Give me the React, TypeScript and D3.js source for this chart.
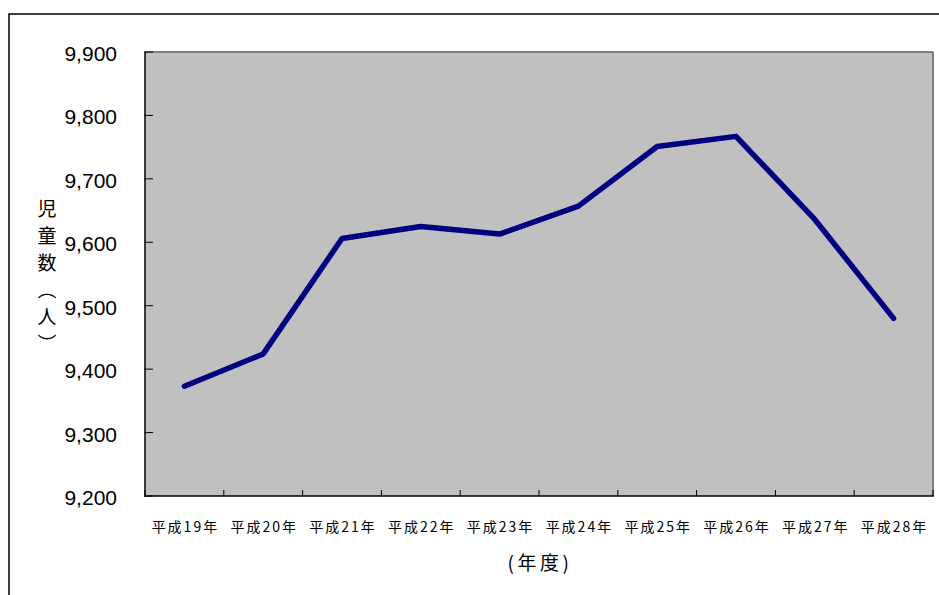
import React from "react";
import * as d3 from "d3";

const categories = ["平成19年", "平成20年", "平成21年", "平成22年", "平成23年", "平成24年", "平成25年", "平成26年", "平成27年", "平成28年"];
const values = [9373, 9424, 9606, 9625, 9613, 9657, 9751, 9767, 9636, 9480];
const yTicks = [9200, 9300, 9400, 9500, 9600, 9700, 9800, 9900];
const yTitle = "児童数（人）";
const xTitle = "(年度)";

const W = 939, H = 595;
const plot = { left: 145, top: 52, right: 933, bottom: 496 };

export default function App() {
  const x = d3.scaleBand<string>().domain(categories).range([plot.left, plot.right]).padding(0);
  const y = d3.scaleLinear().domain([9200, 9900]).range([plot.bottom, plot.top]);
  const line = d3.line<number>()
    .x((_, i) => (x(categories[i]) as number) + x.bandwidth() / 2)
    .y((d) => y(d));
  const fmt = d3.format(",");
  const bounds = [...categories.map((c) => x(c) as number), plot.right];

  return (
    <svg width={W} height={H} style={{ position: "absolute", left: 0, top: 0, background: "#fff" }}>
      <rect x={9} y={14} width={960} height={620} fill="#fff" stroke="#000" strokeWidth={1.5} />
      <rect x={plot.left} y={plot.top} width={plot.right - plot.left} height={plot.bottom - plot.top} fill="#C0C0C0" />
      <line x1={plot.left} x2={plot.right} y1={plot.top} y2={plot.top} stroke="#808080" strokeWidth={2} />
      <line x1={plot.right} x2={plot.right} y1={plot.top} y2={plot.bottom} stroke="#808080" strokeWidth={2} />
      <line x1={plot.left} x2={plot.left} y1={plot.top} y2={plot.bottom + 1} stroke="#000" strokeWidth={1.5} />
      <line x1={plot.left} x2={plot.right + 1} y1={plot.bottom} y2={plot.bottom} stroke="#000" strokeWidth={1.5} />
      {yTicks.map((t) => (
        <g key={t}>
          <line x1={plot.left - 1} x2={plot.left + 8} y1={y(t)} y2={y(t)} stroke="#000" strokeWidth={1} />
          <text x={117} y={y(t) + 9} textAnchor="end"
            fontFamily="'Liberation Sans', Arial, sans-serif" fontSize={21} fill="#000">{fmt(t)}</text>
        </g>
      ))}
      {bounds.map((b, i) => (
        <line key={i} x1={b} x2={b} y1={plot.bottom} y2={plot.bottom - 6} stroke="#000" strokeWidth={1} />
      ))}
      {categories.map((c) => (
        <text key={c} x={(x(c) as number) + x.bandwidth() / 2 + 1} y={526} textAnchor="middle" dominantBaseline="central"
          fontFamily="'Noto Sans CJK JP', sans-serif" fontSize={14} letterSpacing={2} fill="#000">{c}</text>
      ))}
      <path d={line(values) || ""} fill="none" stroke="#000080" strokeWidth={5.5} strokeLinejoin="round" strokeLinecap="round" />
      <text x={47} y={199} style={{ writingMode: "vertical-rl" }} textAnchor="start"
        fontFamily="'Noto Sans CJK JP', sans-serif" fontSize={19} letterSpacing={8} fill="#000">{yTitle}</text>
      <text x={540} y={561} textAnchor="middle" dominantBaseline="central"
        fontFamily="'Noto Sans CJK JP', sans-serif" fontSize={19} letterSpacing={3.5} fill="#000">{xTitle}</text>
    </svg>
  );
}
